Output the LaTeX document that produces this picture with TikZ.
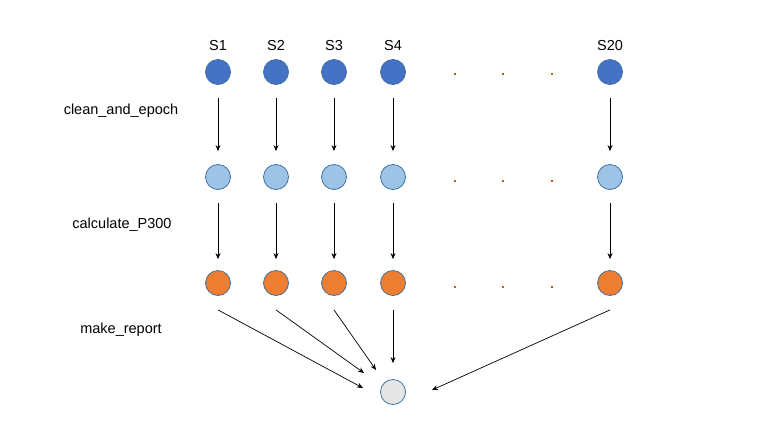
\documentclass[tikz,border=0pt]{standalone}
\usepackage{fontspec}
\setmainfont{Liberation Sans}
\usetikzlibrary{arrows.meta}
\definecolor{darkdot}{HTML}{4472C4}
\definecolor{lightdot}{HTML}{9DC3E6}
\definecolor{orangedot}{HTML}{ED7D31}
\definecolor{greydot}{HTML}{E7E6E6}
\definecolor{rim}{HTML}{41719C}
\definecolor{gapdot}{HTML}{C55A11}
\begin{document}
\begin{tikzpicture}[x=1pt,y=-1pt,
  dot/.style={circle,draw=rim,line width=0.8pt,minimum size=25pt,inner sep=0pt},
  raw/.style={dot,fill=darkdot},
  epoch/.style={dot,fill=lightdot},
  p300/.style={dot,fill=orangedot},
  report/.style={dot,fill=greydot},
  subj/.style={font=\fontsize{14.5}{16}\selectfont},
  stage/.style={font=\fontsize{14.5}{16}\selectfont},
  flow/.style={-{Stealth[length=6pt,width=5pt]},line width=0.7pt},
  gap/.style={fill=gapdot,inner sep=0pt,minimum width=1.2pt,minimum height=1.2pt}
]
\useasboundingbox (0,0) rectangle (770,432);

% subject columns
\foreach \n/\x/\lab in {1/218/S1,2/276/S2,3/334/S3,4/393/S4,5/610/S20}{
  \node[subj] (lab\n) at (\x,46) {\lab};
  \node[raw] (a\n) at (\x,72) {};
  \node[epoch] (b\n) at (\x,177) {};
  \node[p300] (c\n) at (\x,283) {};
  \draw[flow] ([yshift=-13pt]a\n.south) -- ([yshift=13pt]b\n.north);
  \draw[flow] ([yshift=-13pt]b\n.south) -- ([yshift=11pt]c\n.north);
}

% ellipsis between S4 and S20
\foreach \x [count=\i] in {455,503,552}{
  \node[gap] (ga\i) at (\x,74) {};
  \node[gap] (gb\i) at (\x,181) {};
  \node[gap] (gc\i) at (\x,287) {};
}

% pipeline stages
\node[stage] (clean) at (121,111) {clean\_and\_epoch};
\node[stage] (calc) at (122,225) {calculate\_P300};
\node[stage] (make) at (121,330) {make\_report};

% combined report
\node[report] (r) at (393,392) {};
\coordinate (in1) at (363,388);
\coordinate (in2) at (364,373);
\coordinate (in3) at (376,370);
\coordinate (in5) at (432,390);
\draw[flow] ([yshift=-14pt]c1.south) -- (in1);
\draw[flow] ([yshift=-14pt]c2.south) -- (in2);
\draw[flow] ([yshift=-14pt]c3.south) -- (in3);
\draw[flow] ([yshift=-14pt]c4.south) -- ([yshift=16pt]r.north);
\draw[flow] ([yshift=-14pt]c5.south) -- (in5);
\end{tikzpicture}
\end{document}
